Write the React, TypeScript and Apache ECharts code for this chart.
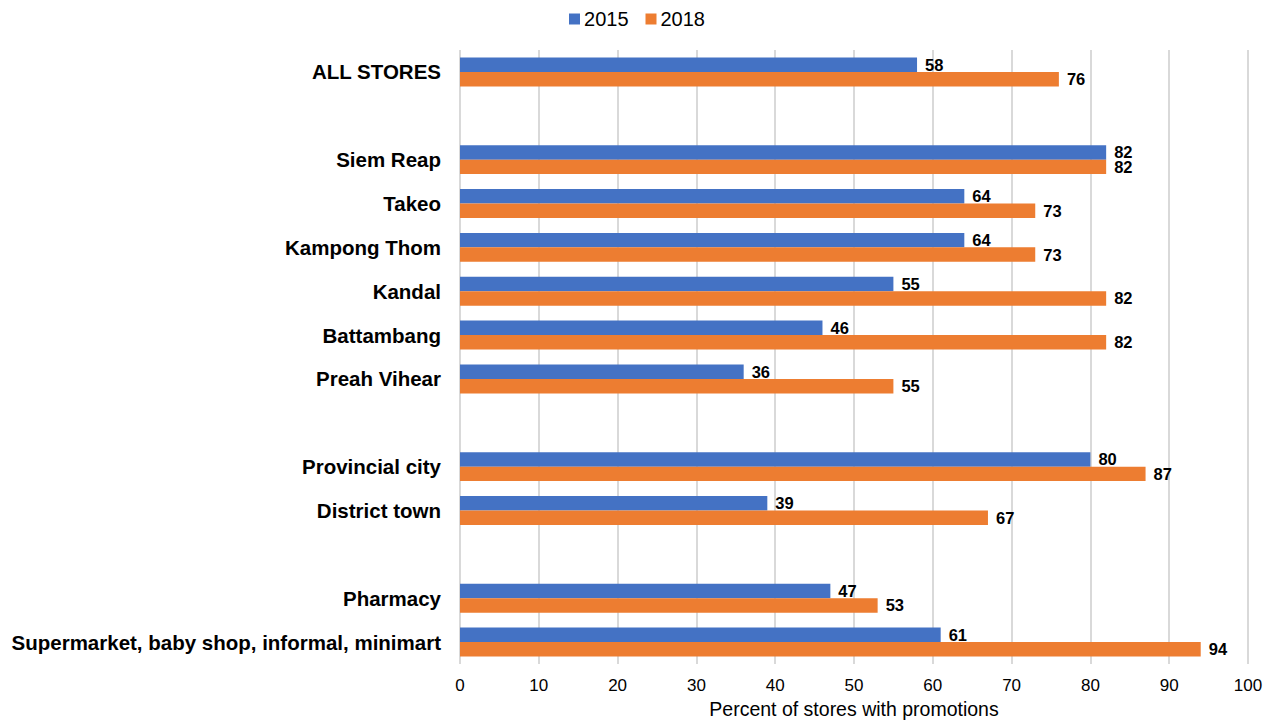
import React, { useEffect, useRef } from "react";
import * as echarts from "echarts";

const categories = [
  "ALL STORES",
  "",
  "Siem Reap",
  "Takeo",
  "Kampong Thom",
  "Kandal",
  "Battambang",
  "Preah Vihear",
  " ",
  "Provincial city",
  "District town",
  "  ",
  "Pharmacy",
  "Supermarket, baby shop, informal, minimart",
];
const values2015: (number | null)[] = [58, null, 82, 64, 64, 55, 46, 36, null, 80, 39, null, 47, 61];
const values2018: (number | null)[] = [76, null, 82, 73, 73, 82, 82, 55, null, 87, 67, null, 53, 94];
const xTicks = { min: 0, max: 100, interval: 10 };

export default function App() {
  const ref = useRef<HTMLDivElement>(null);
  useEffect(() => {
    if (!ref.current) return;
    const chart = echarts.init(ref.current, undefined, { renderer: "svg" });
    const font = "'Liberation Sans', Arial, sans-serif";
    const labelCfg = {
      show: true,
      position: "right" as const,
      distance: 8,
      color: "#000",
      fontWeight: "bold" as const,
      fontSize: 16.5,
      fontFamily: font,
    };
    chart.setOption({
      animation: false,
      textStyle: { fontFamily: font },
      legend: {
        top: 4,
        left: "center",
        itemWidth: 11,
        itemHeight: 11,
        itemGap: 17,
        icon: "rect",
        textStyle: { fontSize: 20, color: "#000", fontFamily: font, padding: [0, 0, 0, -1] },
        data: ["2015", "2018"],
      },
      grid: {
        left: 460,
        right: 26,
        top: 50,
        bottom: 56,
        containLabel: false,
        outerBoundsMode: "none",
      },
      xAxis: {
        type: "value",
        min: xTicks.min,
        max: xTicks.max,
        interval: xTicks.interval,
        name: "Percent of stores with promotions",
        nameLocation: "middle",
        nameGap: 35,
        nameTextStyle: { fontSize: 19.5, color: "#000", fontFamily: font },
        axisLabel: { fontSize: 17, color: "#000", margin: 13, fontFamily: font },
        axisLine: { show: false },
        axisTick: { show: false },
        splitLine: { show: true, lineStyle: { color: "#d9d9d9", width: 2 } },
      },
      yAxis: {
        type: "category",
        data: categories,
        inverse: true,
        axisLine: { show: false },
        axisTick: { show: false },
        axisLabel: {
          fontSize: 20.5,
          fontWeight: "bold",
          color: "#000",
          margin: 19,
          fontFamily: font,
        },
      },
      series: [
        {
          name: "2015",
          type: "bar",
          data: values2015,
          itemStyle: { color: "#4472c4" },
          barGap: "0%",
          barCategoryGap: "34%",
          label: labelCfg,
        },
        {
          name: "2018",
          type: "bar",
          data: values2018,
          itemStyle: { color: "#ed7d31" },
          barGap: "0%",
          barCategoryGap: "34%",
          label: labelCfg,
        },
      ],
    });
    return () => chart.dispose();
  }, []);
  return <div ref={ref} style={{ width: 1274, height: 720, position: "absolute", left: 0, top: 0 }} />;
}
